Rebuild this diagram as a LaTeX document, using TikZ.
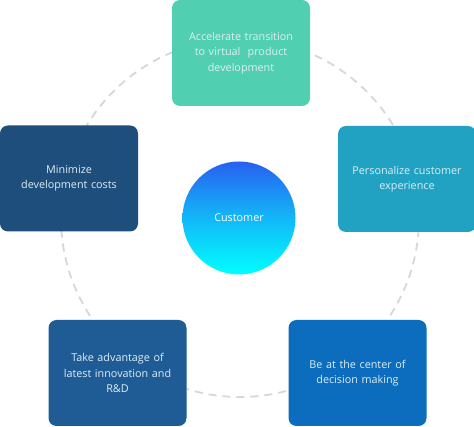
\documentclass[tikz,border=0pt]{standalone}
\usepackage{fontspec}
\setmainfont{Open Sans}
\definecolor{ringgray}{RGB}{215,215,215}
\definecolor{cTop}{RGB}{80,208,176}
\definecolor{cLeft}{RGB}{30,78,124}
\definecolor{cRight}{RGB}{34,162,194}
\definecolor{cBL}{RGB}{31,92,150}
\definecolor{cBR}{RGB}{12,108,190}
\definecolor{circTop}{RGB}{40,96,240}
\definecolor{circBot}{RGB}{0,255,255}
\definecolor{txt}{RGB}{222,238,244}
\begin{document}
\begin{tikzpicture}[x=1pt,y=-1pt,
  goalbox/.style={rounded corners=8pt, minimum width=138pt, minimum height=106pt,
    text width=128pt, align=center, text=txt, inner sep=0pt,
    font=\fontsize{10.8}{15.5}\selectfont},
  ring/.style={draw=ringgray, line width=1.8pt, dash pattern=on 8pt off 6pt}]
\useasboundingbox (0,0) rectangle (474,427);
\fill[white] (0,0) rectangle (474,427);
\coordinate (ctr) at (240,218);
\draw[ring] (ctr) circle[radius=179pt];
\node[goalbox, fill=cTop] (top) at (241,53) {Accelerate transition\\to virtual\ \ product\\development};
\node[goalbox, fill=cLeft] (left) at (69,178.5) {Minimize\\development costs};
\node[goalbox, fill=cRight] (right) at (407,179) {Personalize customer\\experience};
\node[goalbox, fill=cBL] (bl) at (117.5,373) {Take advantage of\\latest innovation and\\R\&D};
\node[goalbox, fill=cBR] (br) at (357.5,373) {Be at the center of\\decision making};
\node[circle, minimum size=113pt, inner sep=0pt, top color=circTop, bottom color=circBot,
  middle color=circBot!55!circTop, text=white, font=\fontsize{10.8}{13}\selectfont] (cust) at (239,218) {Customer};
\end{tikzpicture}
\end{document}
